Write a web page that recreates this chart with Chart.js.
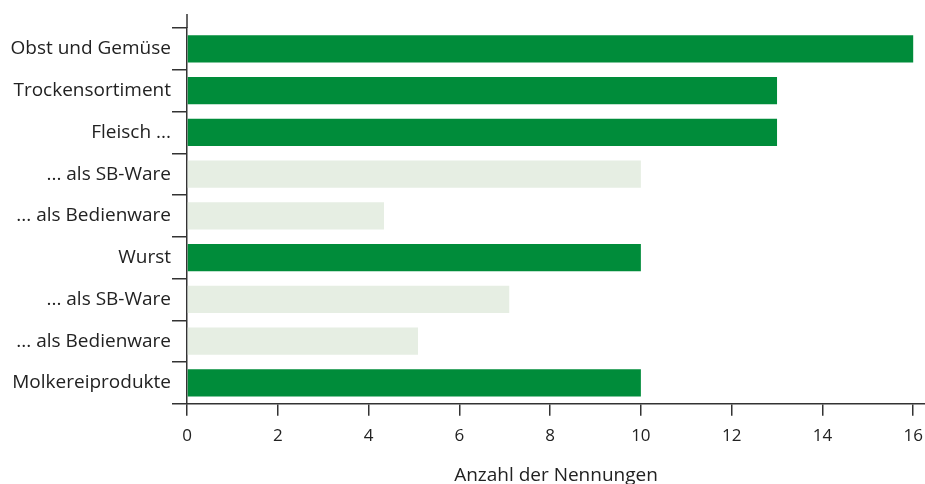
<!DOCTYPE html>
<html>
<head>
<meta charset="utf-8">
<script src="https://cdn.jsdelivr.net/npm/chart.js@4"></script>
<style>
  html, body { margin: 0; padding: 0; background: #fff; }
  #wrap { width: 925px; height: 484px; }
</style>
</head>
<body>
<div id="wrap"><canvas id="chart" width="925" height="484"></canvas></div>
<script>
// categories and values
const categories = [
    'Obst und Gemüse', 'Trockensortiment', 'Fleisch ...', '... als SB-Ware', '... als Bedienware',
    'Wurst', '... als SB-Ware', '... als Bedienware', 'Molkereiprodukte'
];
const mentions = [16, 13, 13, 10, 4.34, 10, 7.1, 5.09, 10];
const isSubItem = [false, false, false, true, true, false, true, true, false];
const xTicks = [0, 2, 4, 6, 8, 10, 12, 14, 16];

const DARK = '#008c3a';
const LIGHT = '#e6eee3';
const AXIS = '#333333';
const TEXT = '#222222';

// extends the y axis line a little above the first category boundary
const axisExtension = {
    id: 'axisExtension',
    afterDraw(chart) {
        const { ctx, chartArea } = chart;
        ctx.save();
        ctx.strokeStyle = AXIS;
        ctx.lineWidth = 1.5;
        ctx.beginPath();
        ctx.moveTo(chartArea.left, chartArea.top - 14);
        ctx.lineTo(chartArea.left, chartArea.top);
        ctx.stroke();
        ctx.restore();
    }
};

new Chart(document.getElementById('chart'), {
    type: 'bar',
    data: {
        labels: categories,
        datasets: [{
            data: mentions,
            backgroundColor: isSubItem.map(s => s ? LIGHT : DARK),
            barPercentage: 1,
            categoryPercentage: 0.65
        }]
    },
    options: {
        indexAxis: 'y',
        responsive: false,
        animation: false,
        layout: { padding: { top: 28, right: 0, left: 0, bottom: -3 } },
        plugins: { legend: { display: false }, tooltip: { enabled: false } },
        scales: {
            x: {
                min: 0,
                max: 16.26,
                afterBuildTicks: axis => { axis.ticks = xTicks.map(v => ({ value: v })); },
                afterFit: axis => { axis.paddingRight = 0; },
                grid: { drawOnChartArea: false, tickLength: 12, color: AXIS, lineWidth: 1.5 },
                border: { color: AXIS, width: 1.5 },
                ticks: { color: TEXT, font: { family: 'Open Sans', size: 17 }, padding: 10 },
                title: {
                    display: true,
                    text: 'Anzahl der Nennungen',
                    color: TEXT,
                    font: { family: 'Open Sans', size: 19 },
                    padding: { top: 8, bottom: 0 }
                }
            },
            y: {
                offset: true,
                afterFit: axis => { axis.width = 187; },
                grid: { drawOnChartArea: false, offset: true, tickLength: 15, color: AXIS, lineWidth: 1.5 },
                border: { color: AXIS, width: 1.5 },
                ticks: { color: TEXT, font: { family: 'Open Sans', size: 19 }, padding: 1 }
            }
        }
    },
    plugins: [axisExtension]
});
</script>
</body>
</html>
